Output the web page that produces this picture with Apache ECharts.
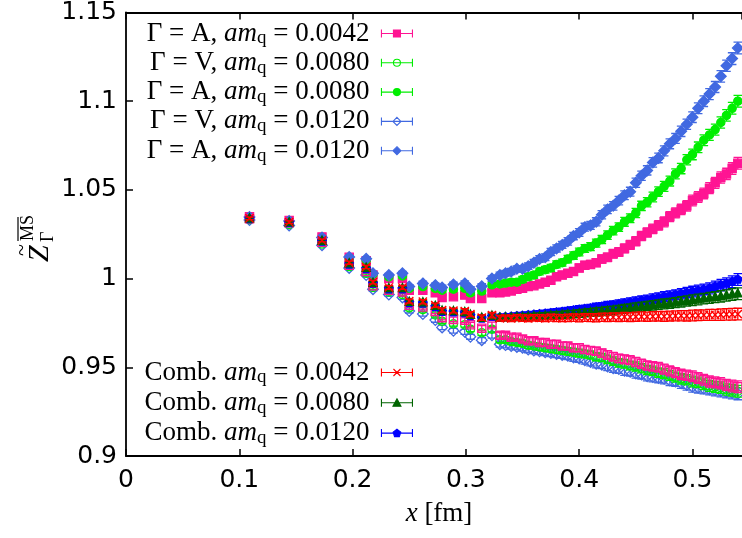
<!DOCTYPE html>
<html lang="en">
<head>
    <meta charset="UTF-8">
    <title>Z_Gamma MS-bar vs x</title>
    <script src="https://cdn.jsdelivr.net/npm/echarts@6/dist/echarts.min.js"></script>
    <style>
        html, body { margin: 0; padding: 0; background: #fff; }
        #main { width: 742px; height: 538px; }
    </style>
</head>
<body>
<div id="main"></div>

<script type="text/javascript">
    // distances x [fm]
    const xs = [0.109, 0.144, 0.173, 0.197, 0.212, 0.218, 0.232, 0.244, 0.250, 0.262, 0.273, 0.279, 0.289, 0.299, 0.304, 0.314, 0.323,
        0.330, 0.335, 0.340, 0.345, 0.350, 0.355, 0.360, 0.365, 0.370, 0.375, 0.380, 0.385, 0.390, 0.395, 0.400,
        0.405, 0.410, 0.415, 0.420, 0.425, 0.430, 0.435, 0.440, 0.445, 0.450, 0.455, 0.460, 0.465, 0.470, 0.475,
        0.480, 0.485, 0.490, 0.495, 0.500, 0.505, 0.510, 0.515, 0.520, 0.525, 0.530, 0.535, 0.540]

    // Gamma = A (filled markers)
    const zA0042 = [1.0348, 1.0328, 1.0235, 1.0120, 1.0100, 1.0020, 1.0000, 1.0000, 0.9935, 0.9935, 0.9920, 0.9894, 0.9898, 0.9907, 0.9888, 0.9888, 0.9920,
        0.9920, 0.9925, 0.9930, 0.9940, 0.9945, 0.9955, 0.9960, 0.9970, 0.9980, 0.9990, 1.0010, 1.0020, 1.0030, 1.0040, 1.0060,
        1.0075, 1.0080, 1.0090, 1.0110, 1.0120, 1.0140, 1.0150, 1.0170, 1.0190, 1.0210, 1.0240, 1.0260, 1.0280, 1.0300, 1.0320,
        1.0350, 1.0370, 1.0390, 1.0410, 1.0440, 1.0460, 1.0480, 1.0510, 1.0540, 1.0570, 1.0590, 1.0620, 1.0650]
    const zA0080 = [1.0345, 1.0322, 1.0228, 1.0115, 1.0105, 1.0025, 1.0010, 1.0015, 0.9945, 0.9955, 0.9945, 0.9935, 0.9940, 0.9945, 0.9920, 0.9930, 0.9965,
        0.9970, 0.9975, 0.9980, 0.9980, 0.9995, 1.0010, 1.0020, 1.0040, 1.0050, 1.0060, 1.0080, 1.0090, 1.0110, 1.0130, 1.0150,
        1.0170, 1.0180, 1.0200, 1.0220, 1.0245, 1.0270, 1.0290, 1.0320, 1.0340, 1.0370, 1.0410, 1.0430, 1.0460, 1.0490, 1.0520,
        1.0550, 1.0590, 1.0620, 1.0670, 1.0700, 1.0740, 1.0780, 1.0810, 1.0840, 1.0880, 1.0920, 1.0960, 1.1000]
    const zA0120 = [1.0347, 1.0325, 1.0232, 1.0122, 1.0112, 1.0030, 1.0020, 1.0030, 0.9955, 0.9973, 0.9963, 0.9950, 0.9967, 0.9973, 0.9940, 0.9957, 1.0000,
        1.0020, 1.0030, 1.0040, 1.0055, 1.0055, 1.0070, 1.0090, 1.0110, 1.0120, 1.0150, 1.0170, 1.0190, 1.0210, 1.0240, 1.0260,
        1.0290, 1.0300, 1.0320, 1.0360, 1.0390, 1.0410, 1.0440, 1.0470, 1.0490, 1.0540, 1.0580, 1.0610, 1.0655, 1.0680, 1.0720,
        1.0760, 1.0790, 1.0830, 1.0870, 1.0910, 1.0960, 1.1000, 1.1040, 1.1080, 1.1140, 1.1200, 1.1240, 1.1300]

    // Gamma = V (open markers)
    const zV0042 = [1.0338, 1.0315, 1.0205, 1.0075, 1.0040, 0.9960, 0.9935, 0.9925, 0.9850, 0.9840, 0.9815, 0.9780, 0.9770, 0.9765, 0.9740, 0.9720, 0.9740,
        0.9680, 0.9680, 0.9670, 0.9670, 0.9660, 0.9650, 0.9650, 0.9640, 0.9640, 0.9630, 0.9630, 0.9620, 0.9620, 0.9610, 0.9610,
        0.9600, 0.9595, 0.9590, 0.9580, 0.9570, 0.9560, 0.9550, 0.9545, 0.9540, 0.9530, 0.9520, 0.9510, 0.9505, 0.9500, 0.9490,
        0.9480, 0.9470, 0.9460, 0.9455, 0.9450, 0.9440, 0.9430, 0.9420, 0.9415, 0.9410, 0.9400, 0.9395, 0.9390]
    const zV0080 = [1.0333, 1.0305, 1.0195, 1.0068, 1.0030, 0.9950, 0.9925, 0.9910, 0.9835, 0.9825, 0.9795, 0.9760, 0.9745, 0.9740, 0.9715, 0.9695, 0.9715,
        0.9655, 0.9655, 0.9645, 0.9640, 0.9635, 0.9625, 0.9620, 0.9615, 0.9610, 0.9605, 0.9600, 0.9595, 0.9590, 0.9585, 0.9580,
        0.9575, 0.9570, 0.9560, 0.9555, 0.9545, 0.9535, 0.9525, 0.9520, 0.9510, 0.9505, 0.9495, 0.9485, 0.9480, 0.9470, 0.9465,
        0.9455, 0.9445, 0.9435, 0.9430, 0.9420, 0.9415, 0.9405, 0.9395, 0.9390, 0.9385, 0.9375, 0.9370, 0.9365]
    const zV0120 = [1.0330, 1.0300, 1.0188, 1.0060, 1.0020, 0.9940, 0.9910, 0.9894, 0.9817, 0.9800, 0.9766, 0.9725, 0.9706, 0.9700, 0.9672, 0.9653, 0.9680,
        0.9630, 0.9625, 0.9620, 0.9615, 0.9610, 0.9600, 0.9595, 0.9590, 0.9585, 0.9580, 0.9575, 0.9570, 0.9565, 0.9555, 0.9550,
        0.9540, 0.9530, 0.9520, 0.9515, 0.9505, 0.9495, 0.9490, 0.9480, 0.9475, 0.9465, 0.9460, 0.9450, 0.9445, 0.9440, 0.9435,
        0.9425, 0.9420, 0.9410, 0.9400, 0.9390, 0.9385, 0.9380, 0.9375, 0.9370, 0.9365, 0.9360, 0.9355, 0.9350]

    // combined
    const comb0042 = [1.0340, 1.0318, 1.0215, 1.0090, 1.0065, 0.9980, 0.9950, 0.9950, 0.9873, 0.9870, 0.9850, 0.9822, 0.9820, 0.9817, 0.9800, 0.9780, 0.9794,
        0.9776, 0.9778, 0.9775, 0.9780, 0.9777, 0.9776, 0.9779, 0.9778, 0.9776, 0.9780, 0.9778, 0.9777, 0.9779, 0.9780, 0.9778,
        0.9781, 0.9780, 0.9779, 0.9782, 0.9781, 0.9783, 0.9782, 0.9784, 0.9783, 0.9785, 0.9786, 0.9785, 0.9787, 0.9788, 0.9787,
        0.9789, 0.9790, 0.9791, 0.9790, 0.9792, 0.9793, 0.9794, 0.9795, 0.9796, 0.9797, 0.9798, 0.9799, 0.9800]
    const comb0080 = [1.0338, 1.0316, 1.0212, 1.0085, 1.0060, 0.9975, 0.9945, 0.9945, 0.9868, 0.9865, 0.9845, 0.9818, 0.9815, 0.9810, 0.9795, 0.9778, 0.9790,
        0.9778, 0.9780, 0.9779, 0.9782, 0.9782, 0.9784, 0.9786, 0.9787, 0.9789, 0.9791, 0.9793, 0.9795, 0.9798, 0.9800, 0.9803,
        0.9806, 0.9809, 0.9812, 0.9815, 0.9818, 0.9821, 0.9825, 0.9829, 0.9833, 0.9837, 0.9841, 0.9845, 0.9849, 0.9853, 0.9857,
        0.9861, 0.9865, 0.9869, 0.9874, 0.9878, 0.9882, 0.9887, 0.9891, 0.9896, 0.9900, 0.9905, 0.9910, 0.9915]
    const comb0120 = [1.0336, 1.0314, 1.0210, 1.0080, 1.0055, 0.9972, 0.9940, 0.9940, 0.9863, 0.9860, 0.9840, 0.9813, 0.9810, 0.9805, 0.9790, 0.9776, 0.9786,
        0.9782, 0.9784, 0.9786, 0.9789, 0.9791, 0.9794, 0.9797, 0.9800, 0.9803, 0.9806, 0.9810, 0.9813, 0.9817, 0.9821, 0.9825,
        0.9829, 0.9833, 0.9838, 0.9842, 0.9847, 0.9851, 0.9856, 0.9861, 0.9866, 0.9871, 0.9876, 0.9881, 0.9887, 0.9892, 0.9898,
        0.9903, 0.9909, 0.9915, 0.9921, 0.9927, 0.9933, 0.9939, 0.9945, 0.9955, 0.9963, 0.9972, 0.9982, 0.9995]

    // statistical errors (half widths)
    const errs = [0.0007, 0.0007, 0.0008, 0.0009, 0.0009, 0.0010, 0.0010, 0.0011, 0.0011, 0.0012, 0.0012, 0.0013, 0.0013, 0.0014, 0.0014, 0.0015, 0.0015,
        0.0016, 0.0016, 0.0017, 0.0017, 0.0018, 0.0018, 0.0018, 0.0019, 0.0019, 0.0020, 0.0020, 0.0020, 0.0021, 0.0021, 0.0022,
        0.0022, 0.0022, 0.0023, 0.0023, 0.0024, 0.0024, 0.0024, 0.0025, 0.0025, 0.0026, 0.0026, 0.0026, 0.0027, 0.0027, 0.0028,
        0.0028, 0.0028, 0.0029, 0.0029, 0.0030, 0.0030, 0.0030, 0.0031, 0.0031, 0.0032, 0.0032, 0.0033, 0.0033]

    const xTicks = [0, 0.1, 0.2, 0.3, 0.4, 0.5]
    const yTicks = [0.9, 0.95, 1, 1.05, 1.1, 1.15]
</script>

<script type="text/javascript">
    const PINK = '#ff1493', LIME = '#00ee00', ROYAL = '#4169e1'
    const RED = '#ff0000', DKGREEN = '#006400', BLUE = '#0000ff'

    // legend icon: horizontal error bar with the marker in the middle (31 x 8 box)
    const barPath = 'M0,5L31,5M0,1L0,9M31,1L31,9'
    const iconMark = {
        square: 'M12,1.5L19,1.5L19,8.5L12,8.5Z',
        circle: 'M19,5A3.5,3.5,0,1,1,12,5A3.5,3.5,0,1,1,19,5Z',
        diamond: 'M15.5,1L19.5,5L15.5,9L11.5,5Z',
        cross: 'M12,1.5L19,8.5M19,1.5L12,8.5',
        triangle: 'M15.5,1L19.5,8.5L11.5,8.5Z',
        pentagon: 'M15.5,1.2L19.3,4L17.9,8.5L13.1,8.5L11.7,4Z'
    }

    const defs = [
        {key: 'A0042', vals: zA0042, color: PINK, shape: 'square', filled: true, g: 'A', m: '0.0042'},
        {key: 'A0080', vals: zA0080, color: LIME, shape: 'circle', filled: true, g: 'A', m: '0.0080'},
        {key: 'A0120', vals: zA0120, color: ROYAL, shape: 'diamond', filled: true, g: 'A', m: '0.0120'},
        {key: 'V0120', vals: zV0120, color: ROYAL, shape: 'diamond', filled: false, g: 'V', m: '0.0120'},
        {key: 'V0080', vals: zV0080, color: LIME, shape: 'circle', filled: false, g: 'V', m: '0.0080'},
        {key: 'V0042', vals: zV0042, color: PINK, shape: 'square', filled: false, g: 'V', m: '0.0042'},
        {key: 'C0120', vals: comb0120, color: BLUE, shape: 'pentagon', filled: true, m: '0.0120'},
        {key: 'C0080', vals: comb0080, color: DKGREEN, shape: 'triangle', filled: true, m: '0.0080'},
        {key: 'C0042', vals: comb0042, color: RED, shape: 'cross', filled: false, m: '0.0042'}
    ]
    const defByKey = {}
    defs.forEach(d => defByKey[d.key] = d)

    function marker(shape, cx, cy, filled, color) {
        const r = 4.1
        const style = {stroke: color, fill: filled ? color : null, lineWidth: 1.3}
        if (shape === 'square') {
            return {type: 'rect', shape: {x: cx - r, y: cy - r, width: 2 * r, height: 2 * r}, style}
        }
        if (shape === 'circle') {
            return {type: 'circle', shape: {cx: cx, cy: cy, r: r}, style}
        }
        if (shape === 'diamond') {
            const q = r * 1.3
            return {type: 'polygon', shape: {points: [[cx, cy - q], [cx + q, cy], [cx, cy + q], [cx - q, cy]]}, style}
        }
        if (shape === 'triangle') {
            return {type: 'polygon', shape: {points: [[cx, cy - r * 1.2], [cx + r, cy + r * 0.8], [cx - r, cy + r * 0.8]]}, style}
        }
        if (shape === 'pentagon') {
            const pts = []
            for (let k = 0; k < 5; k++) {
                const a = -Math.PI / 2 + k * 2 * Math.PI / 5
                pts.push([cx + r * 1.1 * Math.cos(a), cy + r * 1.1 * Math.sin(a)])
            }
            return {type: 'polygon', shape: {points: pts}, style}
        }
        // cross
        return {
            type: 'group', children: [
                {type: 'line', shape: {x1: cx - r, y1: cy - r, x2: cx + r, y2: cy + r}, style: {stroke: color, lineWidth: 1.4}},
                {type: 'line', shape: {x1: cx + r, y1: cy - r, x2: cx - r, y2: cy + r}, style: {stroke: color, lineWidth: 1.4}}
            ]
        }
    }

    function makeRender(d) {
        return function (params, api) {
            const x = api.value(0), y = api.value(1), e = api.value(2)
            const c = api.coord([x, y])
            const hi = api.coord([x, y + e])
            const lo = api.coord([x, y - e])
            const w = 4.3
            const ls = () => ({stroke: d.color, lineWidth: 1.3})
            return {
                type: 'group',
                children: [
                    {type: 'line', shape: {x1: c[0], y1: hi[1], x2: c[0], y2: lo[1]}, style: ls()},
                    {type: 'line', shape: {x1: c[0] - w, y1: hi[1], x2: c[0] + w, y2: hi[1]}, style: ls()},
                    {type: 'line', shape: {x1: c[0] - w, y1: lo[1], x2: c[0] + w, y2: lo[1]}, style: ls()},
                    marker(d.shape, c[0], c[1], d.filled, d.color)
                ]
            }
        }
    }

    function legendLabel(key) {
        const d = defByKey[key]
        if (key.charAt(0) === 'C') {
            return '{t|Comb. }{i|am}{s|q}{t| = ' + d.m + '}'
        }
        return '{t|\u0393 = ' + d.g + ', }{i|am}{s|q}{t| = ' + d.m + '}'
    }

    function legendItem(key) {
        const d = defByKey[key]
        return {
            name: key,
            icon: 'path://' + barPath + iconMark[d.shape],
            itemStyle: {
                color: d.filled ? d.color : 'rgba(0,0,0,0)',
                borderColor: d.color,
                borderWidth: 1.1
            }
        }
    }

    const legendText = {
        padding: [0, 7, 0, 0],
        rich: {
            t: {fontFamily: 'Liberation Serif', fontSize: 27, lineHeight: 28, color: '#000'},
            i: {fontFamily: 'Liberation Serif', fontSize: 27, lineHeight: 28, fontStyle: 'italic', color: '#000'},
            s: {fontFamily: 'Liberation Serif', fontSize: 19, lineHeight: 18, padding: [10, 0, 0, 0], color: '#000'}
        }
    }

    const axisFont = {fontFamily: 'DejaVu Sans', fontSize: 25, color: '#000'}
    const xMax = 0.5437

    const chart = echarts.init(document.getElementById('main'))

    const option = {
        backgroundColor: '#fff',
        animation: false,
        grid: {left: 126, right: 0, top: 12, bottom: 82, containLabel: false},
        xAxis: [{
            type: 'value',
            min: xTicks[0],
            max: xMax,
            interval: xTicks[1] - xTicks[0],
            name: '{i|x} [fm]',
            nameLocation: 'middle',
            nameGap: 44,
            nameTextStyle: {
                fontFamily: 'Liberation Serif', fontSize: 27, color: '#000', padding: [0, 0, 0, 10],
                rich: {i: {fontFamily: 'Liberation Serif', fontSize: 27, fontStyle: 'italic', color: '#000'}}
            },
            axisLine: {show: true, onZero: false, lineStyle: {color: '#000', width: 1.8}},
            axisTick: {show: true, inside: true, length: 7, lineStyle: {color: '#000', width: 1.5}},
            axisLabel: Object.assign({margin: 12, showMaxLabel: false,
                formatter: v => xTicks.some(t => Math.abs(t - v) < 1e-9) ? String(+v.toFixed(1)) : ''}, axisFont),
            splitLine: {show: false}
        }, {
            type: 'value',
            position: 'top',
            min: xTicks[0],
            max: xMax,
            interval: xTicks[1] - xTicks[0],
            axisLine: {show: true, onZero: false, lineStyle: {color: '#000', width: 1.8}},
            axisTick: {show: true, inside: true, length: 7, lineStyle: {color: '#000', width: 1.5}},
            axisLabel: {show: false},
            splitLine: {show: false}
        }],
        yAxis: {
            type: 'value',
            min: yTicks[0],
            max: yTicks[yTicks.length - 1],
            interval: yTicks[1] - yTicks[0],
            axisLine: {show: true, onZero: false, lineStyle: {color: '#000', width: 1.8}},
            axisTick: {show: true, inside: true, length: 7, lineStyle: {color: '#000', width: 1.5}},
            axisLabel: Object.assign({margin: 9, formatter: v => String(+v.toFixed(2))}, axisFont),
            splitLine: {show: false}
        },
        legend: [{
            orient: 'vertical',
            right: 329,
            top: 19,
            align: 'right',
            padding: 0,
            itemGap: 0.3,
            itemWidth: 31,
            itemHeight: 8,
            selectedMode: false,
            formatter: legendLabel,
            textStyle: legendText,
            data: ['A0042', 'V0080', 'A0080', 'V0120', 'A0120'].map(legendItem)
        }, {
            orient: 'vertical',
            right: 329,
            top: 358,
            align: 'right',
            padding: 0,
            itemGap: 1.3,
            itemWidth: 31,
            itemHeight: 8,
            selectedMode: false,
            formatter: legendLabel,
            textStyle: legendText,
            data: ['C0042', 'C0080', 'C0120'].map(legendItem)
        }],
        graphic: [{
            // y axis title: Z-tilde with MS-bar superscript and Gamma subscript, rotated
            type: 'group',
            x: 40,
            y: 262,
            rotation: Math.PI / 2,
            children: [
                {type: 'text', x: 0, y: 0, style: {text: 'Z', font: 'italic 30px "Liberation Serif"', fill: '#000', align: 'left', verticalAlign: 'middle'}},
                {type: 'text', x: 6, y: -18, style: {text: '~', font: '22px "Liberation Serif"', fill: '#000', align: 'left', verticalAlign: 'middle'}},
                {type: 'text', x: 21, y: -12, style: {text: 'MS', font: '18px "Liberation Serif"', fill: '#000', align: 'left', verticalAlign: 'middle'}},
                {type: 'line', shape: {x1: 21, y1: -22, x2: 45, y2: -22}, style: {stroke: '#000', lineWidth: 1.2}},
                {type: 'text', x: 20, y: 8, style: {text: '\u0393', font: '18px "Liberation Serif"', fill: '#000', align: 'left', verticalAlign: 'middle'}}
            ]
        }],
        series: defs.map(d => ({
            name: d.key,
            type: 'custom',
            clip: true,
            renderItem: makeRender(d),
            itemStyle: {color: d.color},
            encode: {x: 0, y: 1},
            data: xs.map((x, i) => [x, d.vals[i], errs[i]])
        }))
    }

    chart.setOption(option)
</script>
</body>
</html>
